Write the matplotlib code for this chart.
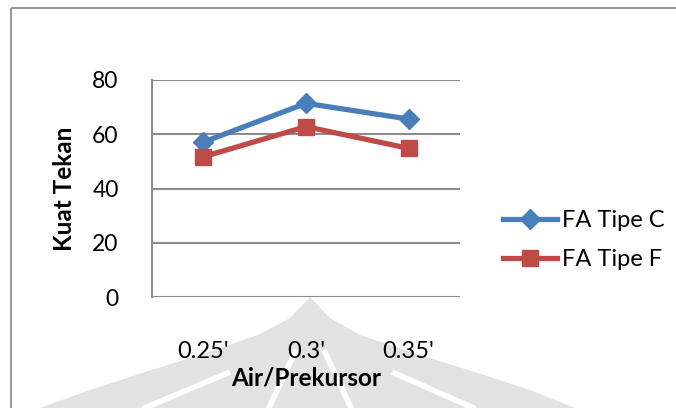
import matplotlib
matplotlib.use("Agg")
import matplotlib.pyplot as plt
from matplotlib.patches import Polygon, Rectangle

plt.rcParams['font.family'] = ['Lato', 'DejaVu Sans']

# Data
categories = ["0.25'", "0.3'", "0.35'"]
fa_tipe_c = [57.1, 71.4, 65.6]
fa_tipe_f = [51.7, 62.8, 54.8]
series_labels = ["FA Tipe C", "FA Tipe F"]
y_ticks = [0, 20, 40, 60, 80]

W, H = 676, 408
fig = plt.figure(figsize=(W / 100, H / 100), dpi=100)

# Background layer in pixel coordinates: chart frame and faint watermark
bg = fig.add_axes([0, 0, 1, 1], zorder=0)
bg.set_xlim(0, W)
bg.set_ylim(H, 0)
bg.axis('off')
bg.add_patch(Rectangle((11, 8), W + 20, H + 20, fill=False,
                       edgecolor='#9a9a9a', linewidth=1.5))

wm = '#e2e2e2'
fan = [(310, 297), (330, 318), (360, 335), (420, 355), (478, 373),
       (530, 390), (575, 408), (40, 408), (90, 390), (142, 373),
       (200, 355), (258, 335), (290, 318)]
bg.add_patch(Polygon(fan, closed=True, facecolor=wm, edgecolor='none'))
# white gaps separating the fan blades
for x0, x1, y0 in [(296, 268, 350), (324, 352, 350), (230, 140, 372), (392, 478, 372)]:
    bg.plot([x0, x1], [y0, 410], color='white', linewidth=4, solid_capstyle='butt')

# Plot area
left, right, top, bottom = 152, 460, 80, 297
ax = fig.add_axes([left / W, 1 - bottom / H, (right - left) / W, (bottom - top) / H], zorder=2)
ax.patch.set_alpha(0)

x = range(len(categories))
ax.plot(x, fa_tipe_c, color='#4a7ebb', linewidth=3.8, marker='D', markersize=10,
        label=series_labels[0], zorder=4)
ax.plot(x, fa_tipe_f, color='#be4b48', linewidth=3.8, marker='s', markersize=12,
        label=series_labels[1], zorder=4)

ax.set_xlim(-0.5, len(categories) - 0.5)
ax.set_ylim(0, 80)
ax.set_yticks(y_ticks)
ax.set_xticks(list(x))
ax.set_xticklabels(categories)
ax.yaxis.grid(True, color='#8c8c8c', linewidth=1.5)
ax.set_axisbelow(True)
for s in ['top', 'right', 'bottom']:
    ax.spines[s].set_visible(False)
ax.spines['left'].set_color('#8c8c8c')
ax.spines['left'].set_linewidth(1.5)
ax.tick_params(axis='both', length=0, labelsize=17, colors='black')
ax.tick_params(axis='y', labelsize=16.5, pad=24)
ax.tick_params(axis='x', pad=32)

ax.set_ylabel('Kuat Tekan', fontsize=17.5, fontweight='bold', labelpad=12)
ax.set_xlabel('Air/Prekursor', fontsize=17.5, fontweight='bold', labelpad=3)

fig.legend(loc='center left', bbox_to_anchor=(503 / W, 1 - 240 / H),
           bbox_transform=fig.transFigure, frameon=False, fontsize=17,
           handlelength=2.3, handletextpad=0.2, labelspacing=0.75,
           borderpad=0, borderaxespad=0)

fig.savefig('out.png', dpi=100)
